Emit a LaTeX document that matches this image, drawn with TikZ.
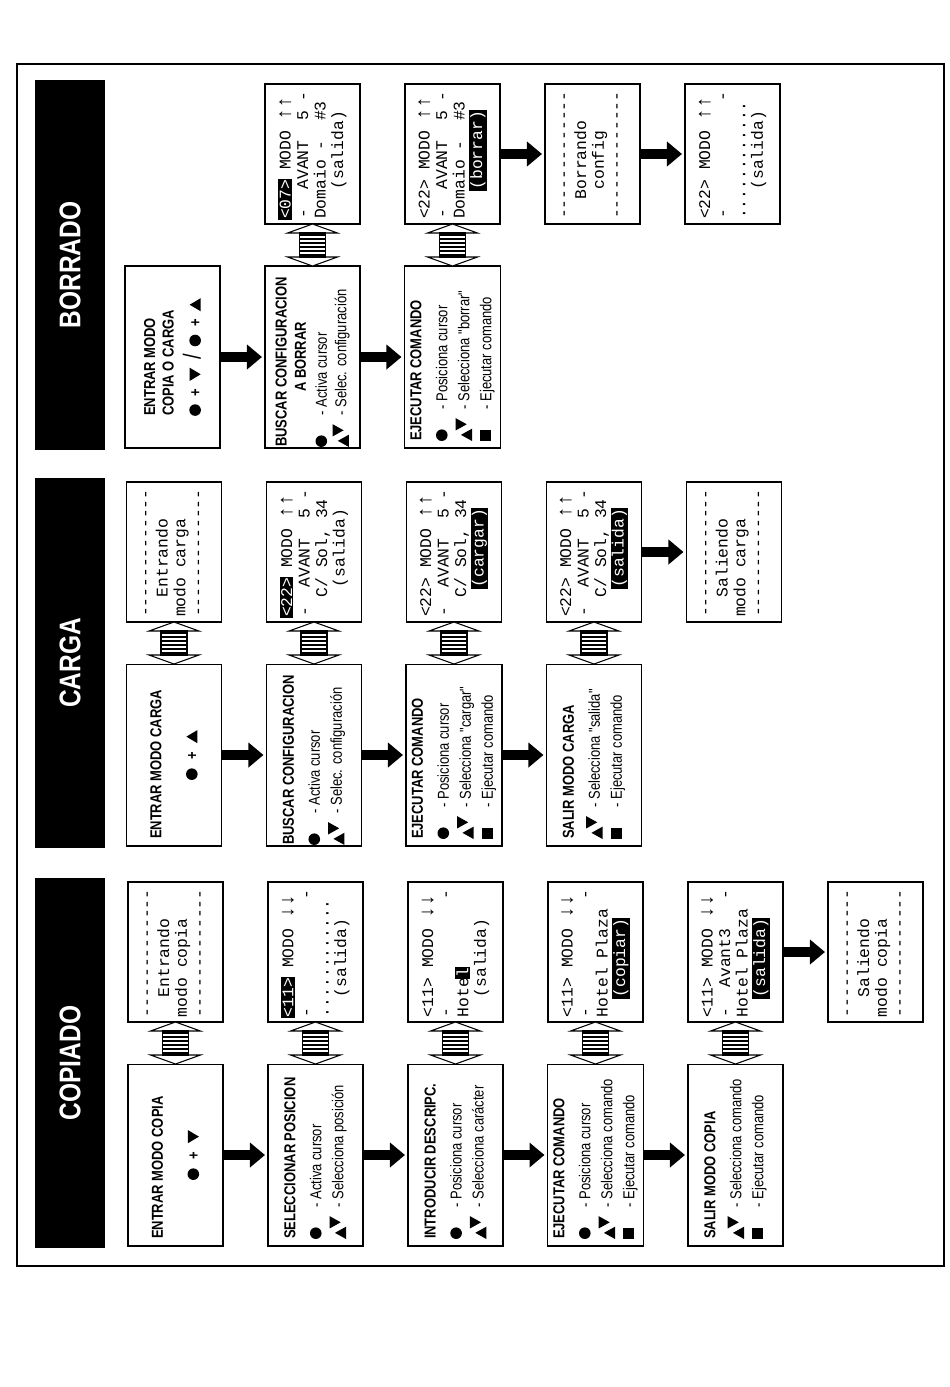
\documentclass[tikz,border=0pt]{standalone}
\usepackage{fontspec}
\setmainfont{Liberation Sans}
\newfontfamily\condfont[FakeStretch=0.82]{Liberation Sans}
\newfontfamily\lcdfont{Liberation Mono}
\usetikzlibrary{arrows.meta,calc}
\setlength{\parindent}{0pt}

% Simbolos de los botones
\newcommand{\bcirc}{\tikz[baseline=0pt,x=1pt,y=1pt]\fill[black] (3.2,3.2) circle (3.3);}
\newcommand{\bcuad}{\tikz[baseline=0pt,x=1pt,y=1pt]\fill[black] (0,0) rectangle (6.3,6.3);}
\newcommand{\barr}{\tikz[baseline=0pt,x=1pt,y=1pt]\fill[black] (0,0) -- (7.5,0) -- (3.75,6.3) -- cycle;}
\newcommand{\baba}{\tikz[baseline=0pt,x=1pt,y=1pt]\fill[black] (0,6.3) -- (7.5,6.3) -- (3.75,0) -- cycle;}
\newcommand{\bflechas}{\tikz[baseline=0pt,x=1pt,y=1pt]{\fill[black] (0,-1.5) -- (7,-1.5) -- (3.5,4.8) -- cycle; \fill[black] (6,7.8) -- (13,7.8) -- (9.5,1.5) -- cycle;}}
\newcommand{\sym}[1]{\makebox[18pt][l]{#1}}
\newcommand{\ttl}[1]{{\bfseries\fontsize{9}{12.5}\selectfont #1}}
% Texto resaltado de la pantalla
\newcommand{\hl}[1]{{\setlength{\fboxsep}{0.7pt}\hspace{-0.7pt}\colorbox{black}{\textcolor{white}{#1}}\hspace{-0.7pt}}}
\newcommand{\rayas}{-{}-{}-{}-{}-{}-{}-{}-{}-{}-{}-{}-{}-}
\newcommand{\fab}{{\fontsize{11.5}{10}\selectfont ↓↓}}
\newcommand{\farr}{{\fontsize{11.5}{10}\selectfont ↑↑}}

\begin{document}
\begin{tikzpicture}[
    x=0.02cm, y=-0.02cm,
    % Estilos de las cajas
    caja/.style={draw, fill=white, line width=0.6pt, rotate=90, minimum width=3.64cm, minimum height=1.9cm, align=flush left, font=\condfont\fontsize{9}{12.5}\selectfont},
    paso/.style={caja, text width=3.36cm, inner xsep=0.14cm},
    pasoancho/.style={caja, text width=3.6cm, inner xsep=0.02cm},
    lcd/.style={draw, fill=white, line width=0.6pt, rotate=90, minimum width=2.8cm, minimum height=1.9cm, text width=2.6cm, inner xsep=0.1cm, align=flush left, font=\lcdfont\fontsize{9.3}{10}\selectfont},
    cabecera/.style={fill=black, text=white, rotate=90, minimum width=7.4cm, minimum height=1.4cm, font=\condfont\bfseries\fontsize{17}{17}\selectfont},
    % Flechas
    flecha/.style={line width=0.21cm, -{Triangle[length=0.3cm,width=0.48cm]}, shorten >=0.05cm},
    dflecha/.pic={
        \draw[fill=white, line width=0.6pt] (-25,-12) -- (0,-21) -- (25,-12) -- cycle;
        \draw[fill=white, line width=0.6pt] (-25,12) -- (0,21) -- (25,12) -- cycle;
        \draw[fill=white, line width=0.6pt] (-13,-12) rectangle (13,12);
        \foreach \k in {-10,-6,...,10} \draw[line width=1.1pt] (-13,\k) -- (13,\k);
    }
]
\useasboundingbox (0,0) rectangle (950,1387);

% Marco exterior
\draw[line width=0.6pt] (17,64) rectangle (944,1266);

% ==========================================
% COPIADO
% ==========================================
\begin{scope}[shift={(0,878)}]
    \node[cabecera] (hcop) at (70,185) {COPIADO};

    % Pasos
    \node[paso] (cI1) at (175.5,277) {\ttl{ENTRAR MODO COPIA}\par\vspace{8pt}{\centering\bcirc\hspace{5pt}\textbf{+}\hspace{5pt}\baba\par}};
    \node[paso] (cI2) at (315.5,277) {\ttl{SELECCIONAR POSICION}\\[2.3pt]\sym{\bcirc}- Activa cursor\\\sym{\bflechas}- Selecciona posición};
    \node[paso] (cI3) at (455.5,277) {\ttl{INTRODUCIR DESCRIPC.}\\[2.3pt]\sym{\bcirc}- Posiciona cursor\\\sym{\bflechas}- Selecciona carácter};
    \node[paso] (cI4) at (595.5,277) {\ttl{EJECUTAR COMANDO}\\[2.3pt]\sym{\bcirc}- Posiciona cursor\\\sym{\bflechas}- Selecciona comando\\\sym{\bcuad}- Ejecutar comando};
    \node[paso] (cI5) at (735.5,277) {\ttl{SALIR MODO COPIA}\\[2.3pt]\sym{\bflechas}- Selecciona comando\\\sym{\bcuad}- Ejecutar comando};

    % Pantallas
    \node[lcd] (cD1) at (175.5,74) {\rayas\\~~Entrando\\modo~copia\\\rayas};
    \node[lcd] (cD2) at (315.5,74) {\hl{<11>}~MODO~\fab\\-~~~~~~~~~~~-\\............\\~~(salida)};
    \node[lcd] (cD3) at (455.5,74) {<11>~MODO~\fab\\-~~~~~~~~~~~-\\Hote\hl{l}\\~~(salida)};
    \node[lcd] (cD4) at (595.5,74) {<11>~MODO~\fab\\-~~~~~~~~~~~-\\Hotel~Plaza\\~~\hl{(copiar)}};
    \node[lcd] (cD5) at (735.5,74) {<11>~MODO~\fab\\-~~Avant3~~~-\\Hotel~Plaza\\~~\hl{(salida)}};
    \node[lcd] (cD6) at (875.5,74) {\rayas\\~~Saliendo\\modo~copia\\\rayas};

    \foreach \a/\b in {1/2,2/3,3/4,4/5} \draw[flecha] (cI\a.south) -- (cI\b.north);
    \draw[flecha] (cD5.south) -- (cD6.north);
    \foreach \n in {1,...,5} \pic at ($(cD\n.west)!0.5!(cI\n.east)$) {dflecha};
\end{scope}

% ==========================================
% CARGA
% ==========================================
\begin{scope}[shift={(-1.5,478)}]
    \node[cabecera] (hcar) at (71.5,185) {CARGA};

    % Pasos
    \node[paso] (kI1) at (175.5,277) {\ttl{ENTRAR MODO CARGA}\par\vspace{8pt}{\centering\bcirc\hspace{5pt}\textbf{+}\hspace{5pt}\barr\par}};
    \node[pasoancho] (kI2) at (315.5,277) {\ttl{BUSCAR CONFIGURACION}\\[2.3pt]\sym{\bcirc}- Activa cursor\\\sym{\bflechas}- Selec. configuración};
    \node[paso] (kI3) at (455.5,277) {\ttl{EJECUTAR COMANDO}\\[2.3pt]\sym{\bcirc}- Posiciona cursor\\\sym{\bflechas}- Selecciona "cargar"\\\sym{\bcuad}- Ejecutar comando};
    \node[paso] (kI4) at (595.5,277) {\ttl{SALIR MODO CARGA}\\[2.3pt]\sym{\bflechas}- Selecciona "salida"\\\sym{\bcuad}- Ejecutar comando};

    % Pantallas
    \node[lcd] (kD1) at (175.5,74) {\rayas\\~~Entrando\\modo~carga\\\rayas};
    \node[lcd] (kD2) at (315.5,74) {\hl{<22>}~MODO~\farr\\-~~AVANT~~5~-\\~~C/~Sol,~34\\~~~(salida)};
    \node[lcd] (kD3) at (455.5,74) {<22>~MODO~\farr\\-~~AVANT~~5~-\\~~C/~Sol,~34\\~~~\hl{(cargar)}};
    \node[lcd] (kD4) at (595.5,74) {<22>~MODO~\farr\\-~~AVANT~~5~-\\~~C/~Sol,~34\\~~~\hl{(salida)}};
    \node[lcd] (kD5) at (735.5,74) {\rayas\\~~Saliendo\\modo~carga\\\rayas};

    \foreach \a/\b in {1/2,2/3,3/4} \draw[flecha] (kI\a.south) -- (kI\b.north);
    \draw[flecha] (kD4.south) -- (kD5.north);
    \foreach \n in {1,...,4} \pic at ($(kD\n.west)!0.5!(kI\n.east)$) {dflecha};
\end{scope}

% ==========================================
% BORRADO
% ==========================================
\begin{scope}[shift={(-3,80)}]
    \node[cabecera] (hbor) at (73,185) {BORRADO};

    % Pasos
    \node[caja, font=\condfont\fontsize{9}{10.5}\selectfont] (bI1) at (175.5,277) {\ttl{ENTRAR MODO}\\\ttl{COPIA O CARGA}\\[5pt]\bcirc\enspace\textbf{+}\enspace\baba\enspace{\fontsize{14}{14}\selectfont /}\enspace\bcirc\enspace\textbf{+}\enspace\barr};
    \node[pasoancho, font=\condfont\fontsize{9}{11}\selectfont] (bI2) at (315.5,277) {\ttl{BUSCAR CONFIGURACION}\par{\centering\ttl{A BORRAR}\par}\vspace{1pt}\sym{\bcirc}- Activa cursor\\\sym{\bflechas}- Selec. configuración};
    \node[paso] (bI3) at (455.5,277) {\ttl{EJECUTAR COMANDO}\\[2.3pt]\sym{\bcirc}- Posiciona cursor\\\sym{\bflechas}- Selecciona "borrar"\\\sym{\bcuad}- Ejecutar comando};

    % Pantallas
    \node[lcd] (bD2) at (315.5,74) {\hl{<07>}~MODO~\farr\\-~~AVANT~~5~-\\Domaio~-~~\#3\\~~~(salida)};
    \node[lcd] (bD3) at (455.5,74) {<22>~MODO~\farr\\-~~AVANT~~5~-\\Domaio~-~~\#3\\~~~\hl{(borrar)}};
    \node[lcd] (bD4) at (595.5,74) {\rayas\\~~Borrando\\~~~config\\\rayas};
    \node[lcd] (bD5) at (735.5,74) {<22>~MODO~\farr\\-~~~~~~~~~~~-\\............\\~~~(salida)};

    \foreach \a/\b in {1/2,2/3} \draw[flecha] (bI\a.south) -- (bI\b.north);
    \foreach \a/\b in {3/4,4/5} \draw[flecha] (bD\a.south) -- (bD\b.north);
    \foreach \n in {2,3} \pic at ($(bD\n.west)!0.5!(bI\n.east)$) {dflecha};
\end{scope}

\end{tikzpicture}
\end{document}
